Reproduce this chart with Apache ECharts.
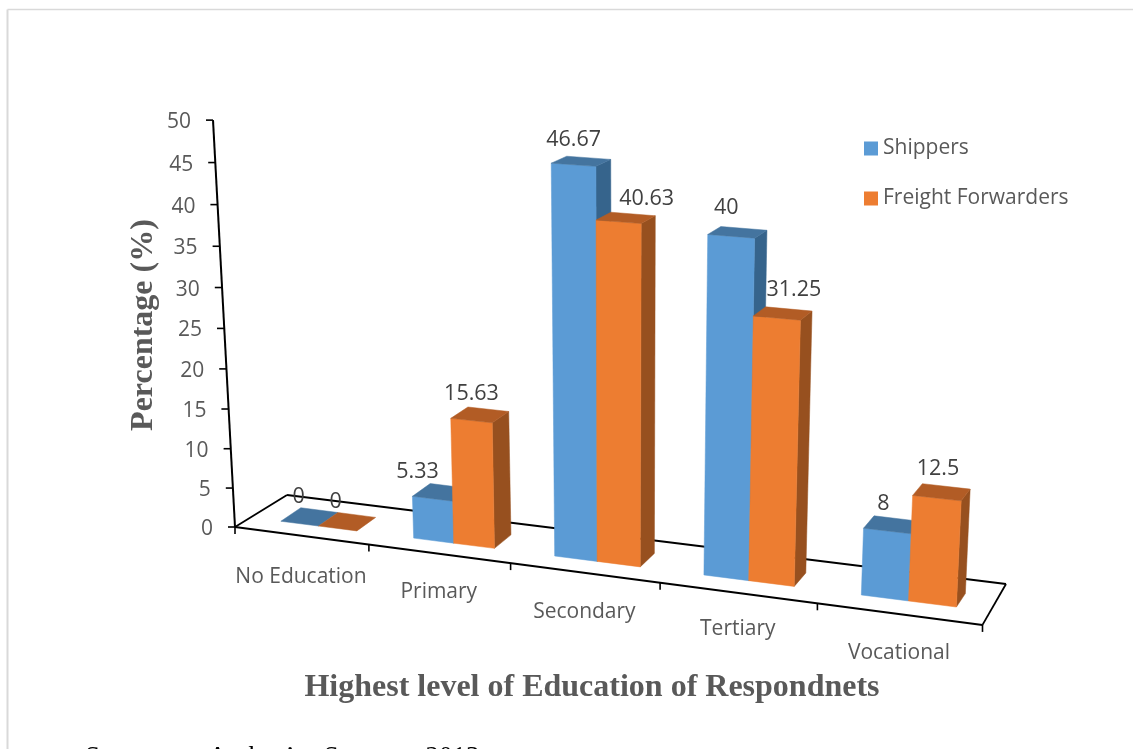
<!DOCTYPE html>
<html>
<head>
<meta charset="utf-8">
<style>html,body{margin:0;padding:0;background:#fff;overflow:hidden}#c{width:1133px;height:749px}</style>
<script src="https://cdn.jsdelivr.net/npm/echarts@6/dist/echarts.min.js"></script>
</head>
<body>
<div id="c"></div>
<script>
const categories = ['No Education', 'Primary', 'Secondary', 'Tertiary', 'Vocational'];
const shippers = [0, 5.33, 46.67, 40, 8];
const freightForwarders = [0, 15.63, 40.63, 31.25, 12.5];
const valueTicks = [0, 5, 10, 15, 20, 25, 30, 35, 40, 45, 50];
const xTitle = 'Highest level of Education of Respondnets';
const yTitle = 'Percentage (%)';
const sourceNote = 'Source:      Author\u2019s   Survey,   2013';

// Grid rectangle that the axes scale into; the warp below turns it into the tilted view.
const GL = 235, GT = 120, GW = 748, GH = 407, VMAX = 50;
const BAND = GW / categories.length;
const SANS = '"Open Sans", sans-serif', SERIF = '"Liberation Serif", serif';
const toT = px => (px - GL) / BAND;
const toV = py => (GT + GH - py) / (GH / VMAX);

function barPoint(t, v, d) {
  const x0 = 254 + 127 * t + 4.1 * t * t;
  const y0 = 521 + (x0 - 279) * 0.127;
  const s = 7.6 + 0.00105 * (x0 - 235);
  return [
    x0 + (x0 - 620) * 0.00114 * v + d * (20 - (x0 - 279) * 0.0163),
    y0 - s * v * (1 + 0.0013 * v) + d * (-13.5 + 0.14 * v)
  ];
}
function floorFront(t) {
  const x = 235 + 130 * t + 3.9 * t * t;
  return [x, 527 + (x - 235) * 0.131];
}
function wallPoint(v) {
  return [235 - 0.44 * v, 527 - 7.75 * v * (1 + 0.001 * v)];
}
const text = (str, x, y, font, fill, align, extra) => Object.assign({
  type: 'text',
  style: { text: str, x: x, y: y, font: font, fill: fill, align: align || 'center', verticalAlign: 'middle' }
}, extra || {});
const line = (a, b, w) => ({
  type: 'line',
  shape: { x1: a[0], y1: a[1], x2: b[0], y2: b[1] },
  style: { stroke: '#000', lineWidth: w || 1.5 }
});

const categoryLabelNudge = [3, 0, 1, -2, 1];

function frameItem(params, api) {
  const kids = [];
  const BL = [287, 495], BR = [1006, 584];
  const FL = floorFront(0), FR = floorFront(categories.length);
  kids.push(line(FL, FR, 2), line(BL, BR, 1.8), line(FL, BL, 1.8), line(FR, BR, 1.8));
  for (let i = 0; i <= categories.length; i++) {
    const p = floorFront(i);
    kids.push(line(p, [p[0], p[1] + 7], 1.6));
  }
  categories.forEach((c, i) => {
    const t = toT(api.coord([i, 0])[0]);
    const p = floorFront(t);
    kids.push(text(c, p[0], p[1] + 38 + categoryLabelNudge[i], '21px ' + SANS, '#595959'));
  });
  const v0 = toV(api.coord([0, 0])[1]), v1 = toV(api.coord([0, VMAX])[1]);
  kids.push(line(wallPoint(v0), wallPoint(v1), 2));
  valueTicks.forEach(tick => {
    const p = wallPoint(toV(api.coord([0, tick])[1]));
    kids.push(line([p[0] - 7, p[1]], p, 1.6));
    kids.push(text(String(tick), p[0] - 22, p[1] + 2, '21px ' + SANS, '#595959', 'right'));
  });
  kids.push(text(xTitle, 592, 688, 'bold 32px ' + SERIF, '#595959'));
  kids.push({
    type: 'text', x: 144, y: 325, rotation: Math.PI / 2,
    style: { text: yTitle, x: 0, y: 0, font: 'bold 32px ' + SERIF, fill: '#595959', align: 'center', verticalAlign: 'middle' }
  });
  kids.push(text(sourceNote, 85, 758, '27px ' + SERIF, '#000', 'left'));
  return { type: 'group', children: kids };
}

function barItem(cfg) {
  return function (params, api) {
    const i = api.value(0), val = api.value(1);
    const c = api.coord([i, val]);
    const tc = toT(c[0]), v = toV(c[1]);
    const t0 = tc + cfg.from, t1 = tc + cfg.to;
    const A = barPoint(t0, v, 0), B = barPoint(t1, v, 0);
    const C = barPoint(t1, 0, 0), D = barPoint(t0, 0, 0);
    const A2 = barPoint(t0, v, 1), B2 = barPoint(t1, v, 1), C2 = barPoint(t1, 0, 1);
    const poly = (pts, col) => ({
      type: 'polygon', shape: { points: pts },
      style: { fill: col, stroke: col, lineWidth: 0.5 }
    });
    const kids = [];
    if (v > 0) {
      kids.push(poly([B, B2, C2, C], cfg.side));
      kids.push(poly([A, B, C, D], cfg.front));
    }
    kids.push(poly([A, B, B2, A2], cfg.top));
    const lx = (A[0] + B[0]) / 2 + cfg.labelDx[i], ly = (A[1] + B[1]) / 2 - 28 + cfg.labelDy[i];
    kids.push(Object.assign(text(String(val), lx, ly, cfg.labelFont, '#404040'), { z2: 50 }));
    return { type: 'group', children: kids };
  };
}

const labelFont = '21.5px ' + SANS;
const chart = echarts.init(document.getElementById('c'), null, { renderer: 'canvas' });
chart.setOption({
  animation: false,
  backgroundColor: '#fff',
  grid: { left: GL, top: GT, width: GW, height: GH, containLabel: false },
  xAxis: { type: 'category', data: categories, show: false },
  yAxis: { type: 'value', min: 0, max: VMAX, interval: 5, show: false },
  legend: {
    orient: 'vertical', left: 864, top: 138, padding: 0, itemWidth: 14, itemHeight: 14, itemGap: 29,
    icon: 'rect', selectedMode: false,
    data: ['Shippers', 'Freight Forwarders'],
    textStyle: { fontFamily: SANS, fontSize: 21, color: '#595959', lineHeight: 21 }
  },
  graphic: [
    { type: 'line', silent: true, shape: { x1: 7.5, y1: 9.5, x2: 1133, y2: 9.5 }, style: { stroke: '#d9d9d9', lineWidth: 1.5 } },
    { type: 'line', silent: true, shape: { x1: 7.5, y1: 9.5, x2: 7.5, y2: 749 }, style: { stroke: '#d9d9d9', lineWidth: 2 } }
  ],
  series: [
    {
      name: 'frame', type: 'custom', silent: true, z: 1,
      data: [[0, 0]], encode: { x: 0, y: 1 },
      renderItem: frameItem
    },
    {
      name: 'Shippers', type: 'custom', z: 2, itemStyle: { color: '#5B9BD5' },
      data: shippers.map((v, i) => [i, v]), encode: { x: 0, y: 1 },
      renderItem: barItem({
        from: -0.29, to: 0, front: '#5B9BD5', top: '#44749F', side: '#36648C',
        labelDx: [-1, -15, 0, -5, -4], labelDy: [1, 1, 3, 0, 1], labelFont: labelFont
      })
    },
    {
      name: 'Freight Forwarders', type: 'custom', z: 3, itemStyle: { color: '#ED7D31' },
      data: freightForwarders.map((v, i) => [i, v]), encode: { x: 0, y: 1 },
      renderItem: barItem({
        from: 0, to: 0.29, front: '#ED7D31', top: '#B25C25', side: '#97501F',
        labelDx: [-2, 0, 28, 17, 1], labelDy: [1, 1, 5, 0, -1], labelFont: labelFont
      })
    }
  ]
});
</script>
</body>
</html>
